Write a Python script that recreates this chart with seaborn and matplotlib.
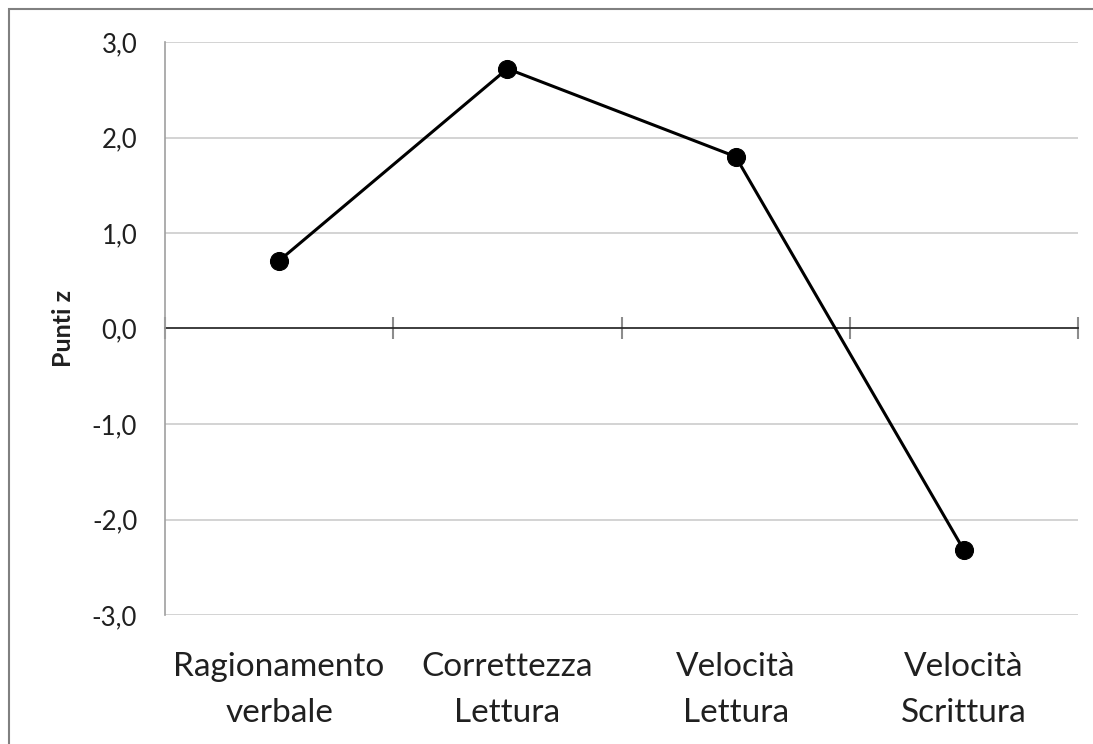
import matplotlib
matplotlib.use("Agg")
import matplotlib.pyplot as plt
import matplotlib.ticker as mticker
from matplotlib.patches import Rectangle
import seaborn as sns
import pandas as pd

# data
categories = ["Ragionamento\nverbale", "Correttezza\nLettura", "Velocità\nLettura", "Velocità\nScrittura"]
punti_z = [0.71, 2.72, 1.80, -2.32]
y_ticks = [-3, -2, -1, 0, 1, 2, 3]

sns.set_theme(style="white")
plt.rcParams["font.family"] = ["Lato", "DejaVu Sans"]

W, H = 1093, 744
fig = plt.figure(figsize=(W / 100, H / 100), dpi=100)
ax = fig.add_axes([165 / W, 1 - 615 / H, (1078 - 165) / W, (615 - 42) / H])

df = pd.DataFrame({"idx": range(len(categories)), "z": punti_z})
sns.lineplot(data=df, x="idx", y="z", ax=ax, color="black", linewidth=2.2,
             marker="o", markersize=13, markeredgecolor="black", zorder=5)

ax.set_xlim(-0.5, len(categories) - 0.5)
ax.set_ylim(-3, 3)
ax.set_yticks(y_ticks)
ax.yaxis.set_major_formatter(mticker.FuncFormatter(lambda v, p: f"{v:.1f}".replace(".", ",")))
for t in y_ticks:
    if t != 0:
        ax.axhline(t, color="#d0d0d0", linewidth=1.3, zorder=1)

ax.set_xticks(range(len(categories)))
ax.set_xticklabels(categories, fontsize=24, linespacing=1.65, color="#202020")
ax.tick_params(axis="x", length=0, pad=27)
ax.tick_params(axis="y", length=0, pad=20, labelsize=18.5, labelcolor="#202020")
ax.set_xlabel("")
ax.set_ylabel("Punti z", fontsize=18, fontweight="bold", labelpad=12, color="#202020")

for side in ["top", "right", "bottom"]:
    ax.spines[side].set_visible(False)
ax.spines["left"].set_color("#a0a0a0")
ax.spines["left"].set_linewidth(1.2)

# zero axis with category boundary ticks
sec = ax.secondary_xaxis(0.5)
sec.set_xticks([i - 0.5 for i in range(len(categories) + 1)])
sec.set_xticklabels([])
sec.tick_params(direction="inout", length=16, width=1.5, color="#8c8c8c")
sec.spines["bottom"].set_color("#8c8c8c")
sec.spines["bottom"].set_linewidth(1.5)

# outer chart border
fig.patches.append(Rectangle((9 / W, -0.05), 1.1, 1 - 9 / H + 0.05, transform=fig.transFigure,
                             fill=False, edgecolor="#808080", linewidth=1.5))

fig.savefig("out.png", dpi=100)
